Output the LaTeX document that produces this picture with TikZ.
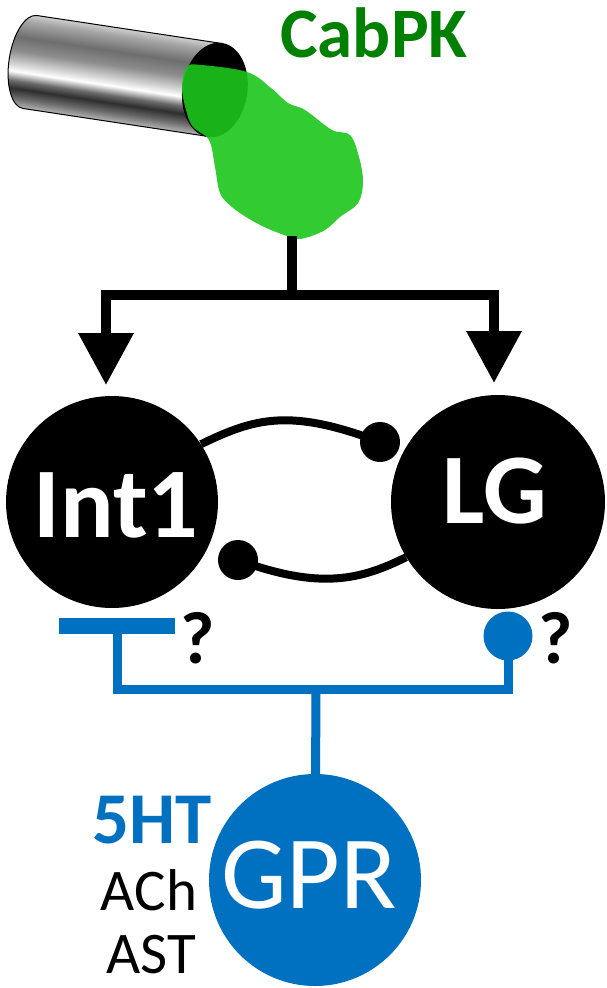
\documentclass[tikz,border=0pt]{standalone}
\usepackage{fontspec}
\setmainfont{Carlito}
\usetikzlibrary{arrows.meta}

\definecolor{pkgreen}{HTML}{008000}
\definecolor{gel}{HTML}{1CC61C}
\definecolor{gprblue}{HTML}{0070C0}

% brushed-metal look of the vial, bottom (25bp) to top (75bp)
\definecolor{m0}{HTML}{B5B5B5}
\definecolor{m1}{HTML}{6A6A6A}
\definecolor{m2}{HTML}{2E2E2E}
\definecolor{m3}{HTML}{6A6A6A}
\definecolor{m4}{HTML}{FFFFFF}
\definecolor{m5}{HTML}{D8D8D8}
\definecolor{m6}{HTML}{8C8C8C}
\definecolor{m7}{HTML}{6E6E6E}
\definecolor{m8}{HTML}{A5A5A5}
\definecolor{m9}{HTML}{CFCFCF}
\pgfdeclareverticalshading{metal}{100bp}{%
  color(0bp)=(m0); color(25bp)=(m0); color(30bp)=(m1); color(35bp)=(m2);
  color(39bp)=(m3); color(44bp)=(m4); color(47.5bp)=(m5); color(55bp)=(m6);
  color(62.5bp)=(m7); color(71bp)=(m8); color(75bp)=(m9); color(100bp)=(m9)}

\begin{document}
\begin{tikzpicture}[x=1pt, y=-1pt,
  neuron/.style={circle, fill=black, minimum size=212pt, inner sep=0pt},
  cellname/.style={anchor=base, text=white, font=\bfseries\fontsize{100}{100}\selectfont},
  feed/.style={line width=10pt, draw=black},
  feedtip/.style={feed, -{Triangle[width=53pt, length=52pt]}},
  syn/.style={line width=8pt, draw=black},
  knob/.style={circle, fill=black, minimum size=40pt, inner sep=0pt},
  mod/.style={line width=9pt, draw=gprblue},
  query/.style={anchor=base, font=\bfseries\fontsize{74}{74}\selectfont},
  ligand/.style={anchor=base, font=\fontsize{59}{59}\selectfont}]

\useasboundingbox[fill=white] (0,0) rectangle (606,988);

% ---- vial (canvas transform so the metal shading tilts with it) ----
\begin{scope}[transform canvas={shift={(30,62)}, rotate=-8.6}]
  \path[shading=metal, draw=black, line width=1pt]
    (0,-47) arc[start angle=270, end angle=90, x radius=21, y radius=47]
    -- (187,47) -- (187,-47) -- cycle;
  \draw[line width=1pt, fill=black] (187,0) ellipse[x radius=32, y radius=47];
\end{scope}

% ---- poured peptide ----
\fill[gel, fill opacity=0.9] plot[smooth cycle, tension=0.6] coordinates {
  (187,67) (201,65) (247,72) (271,88) (288,103) (305,110) (332,130) (350,135)
  (359,157) (363,182) (358,203) (340,217) (325,230) (305,238) (294,238)
  (271,230) (251,220) (232,207) (220,193) (215,167) (209,140) (193,127)
  (186,110) (182,87)};

\node[anchor=base, text=pkgreen, font=\bfseries\fontsize{71}{71}\selectfont]
  (cabpk) at (374,57) {CabPK};

% ---- neurons ----
\node[neuron] (int1) at (112,502) {};
\node[neuron, minimum size=214pt] (lg) at (498,502) {};
\node[cellname] (int1lbl) at (116,537) {Int1};
\node[cellname] (lglbl) at (495,523) {LG};

% ---- CabPK drive onto both cells ----
\coordinate (blobbot) at (292,236);
\coordinate (split) at (292,295);
\coordinate (tipL) at (106,385);
\coordinate (tipR) at (494,383);
\draw[feed] (blobbot) -- (split);
\draw[feedtip] (split) -| (tipL);
\draw[feedtip] (split) -| (tipR);

% ---- reciprocal inhibitory synapses ----
\node[knob] (knobA) at (380,442) {};
\node[knob] (knobB) at (238,560) {};
\draw[syn] (int1.33) .. controls (255,418) and (290,408) .. (knobA.center);
\draw[syn] (lg.211) .. controls (360,580) and (320,590) .. (knobB.center);

% ---- modulatory pathway ----
\node[circle, fill=gprblue, minimum size=212pt, inner sep=0pt] (gpr) at (315,880) {};
\node[anchor=base, text=white, font=\fontsize{104}{104}\selectfont] (gprlbl) at (309,908) {GPR};

\node[fill=gprblue, minimum width=116pt, minimum height=16pt, inner sep=0pt] (tbar) at (117,626) {};
\node[circle, fill=gprblue, minimum size=49pt, inner sep=0pt] (knobC) at (508,636) {};
\coordinate (hub) at (316,689);
\draw[mod] (tbar.south) |- (hub) -| (knobC.center);
\draw[mod] (hub) -- (gpr);

\node[query] (qL) at (198,663) {?};
\node[query] (qR) at (556,663) {?};

\node[anchor=base, text=gprblue, font=\bfseries\fontsize{73}{73}\selectfont] (sht) at (152,843) {5HT};
\node[ligand] (ach) at (149,910) {ACh};
\node[ligand] (ast) at (151,973) {AST};
\end{tikzpicture}
\end{document}
